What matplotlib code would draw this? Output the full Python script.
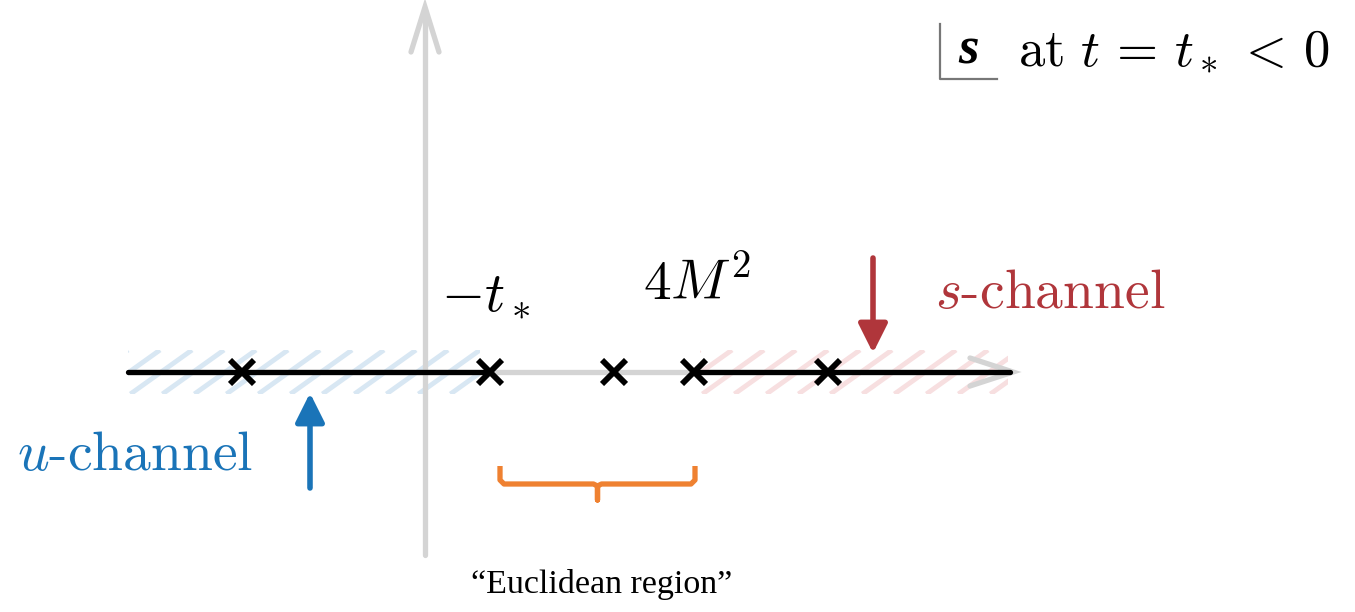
import numpy as np
import matplotlib.pyplot as plt
from matplotlib.patches import Rectangle

plt.rcParams['mathtext.fontset'] = 'cm'

# positions along the real s axis (origin at the crossing of the axes)
pole_x = [-1.83, 0.65, 1.89, 2.69, 4.03]
minus_tstar = 0.65
four_m2 = 2.69
axis_x = [-2.97, 5.85]          # real axis extent
axis_y = [-1.83, 3.62]          # imaginary axis extent
u_cut = [-2.97, minus_tstar]
s_cut = [four_m2, 5.85]
u_hatch = [-2.97, 0.55]
s_hatch = [2.75, 5.83]
hatch_h = 0.22
u_arrow = (-1.15, -1.16, -0.21)  # x, tail y, tip y
s_arrow = (4.48, 1.14, 0.19)
brace = (0.75, 2.70, -0.94, -1.12, -1.28)  # left, right, top, mid, tip

grey = '#d4d4d4'
blue = '#1a74b8'
red = '#b0363b'
orange = '#ef8131'

fig = plt.figure(figsize=(13.55, 6.12), dpi=100)
ax = fig.add_axes([0, 0, 1, 1])
ax.set_xlim(-4.25, 9.30)
ax.set_ylim(-2.40, 3.72)
ax.axis('off')

# hatched cut regions
for (x0, x1), col in [(u_hatch, '#d8e7f3'), (s_hatch, '#f7dfe0')]:
    rect = Rectangle((x0, -hatch_h), x1 - x0, 2 * hatch_h, fc='none', ec='none')
    ax.add_patch(rect)
    dx = 2 * hatch_h * 1.4
    for xs in np.arange(x0 - dx, x1 + 0.3, 0.32):
        ln, = ax.plot([xs, xs + dx], [-hatch_h, hatch_h], color=col, lw=3.5,
                      solid_capstyle='butt', zorder=1)
        ln.set_clip_path(rect)

# grey axes with open arrow heads
ax.plot(axis_x, [0, 0], color=grey, lw=3.8, zorder=2, solid_capstyle='round')
ax.plot([0, 0], axis_y, color=grey, lw=3.8, zorder=2, solid_capstyle='round')
ax.plot([axis_x[1] - 0.40, axis_x[1] + 0.03, axis_x[1] - 0.40], [0.14, 0, -0.14],
        color=grey, lw=3.8, zorder=2, solid_capstyle='round', solid_joinstyle='miter')
ax.plot([-0.14, 0, 0.14], [axis_y[1] - 0.42, axis_y[1] + 0.03, axis_y[1] - 0.42],
        color=grey, lw=3.8, zorder=2, solid_capstyle='round', solid_joinstyle='miter')

# branch cuts
ax.plot(u_cut, [0, 0], color='black', lw=3.8, zorder=3, solid_capstyle='round')
ax.plot(s_cut, [0, 0], color='black', lw=3.8, zorder=3, solid_capstyle='round')

# poles
ax.plot(pole_x, np.zeros(len(pole_x)), 'x', color='black', ms=17, mew=4.2, zorder=4)

# channel arrows
for (x, y0, y1), col in [(u_arrow, blue), (s_arrow, red)]:
    ax.annotate('', xy=(x, y1), xytext=(x, y0),
                arrowprops=dict(arrowstyle='-|>', color=col, lw=4, mutation_scale=44,
                                shrinkA=0, shrinkB=0, capstyle='round'))

# brace for the Euclidean region
bl, br, bt, bm, bb = brace
bc = (bl + br) / 2
r = 0.04
ax.plot([bl, bl, bl + r, bc - r, bc, bc, bc, bc + r, br - r, br, br],
        [bt, bm + r, bm, bm, bm - 0.02, bb, bm - 0.02, bm, bm, bm + r, bt],
        color=orange, lw=3.8, solid_joinstyle='round', solid_capstyle='butt')

# labels
ax.text(minus_tstar - 0.05, 0.50, r'$-t_*$', fontsize=40, ha='center', va='bottom')
ax.text(four_m2 + 0.03, 0.60, r'$4M^2$', fontsize=40, ha='center', va='bottom')
ax.text(5.10, 0.78, r'$s$-channel', fontsize=40, color=red, family='cmr10',
        ha='left', va='center')
ax.text(-4.08, -0.84, r'$u$-channel', fontsize=40, color=blue, family='cmr10',
        ha='left', va='center')
ax.text(1.77, -2.13, '\u201cEuclidean region\u201d', fontsize=24.5,
        family='Liberation Serif', ha='center', va='center')

# s-plane label
ax.plot([5.15, 5.15, 5.72], [3.48, 2.93, 2.93], color='#777777', lw=1.6)
ax.text(5.44, 3.22, 's', fontsize=38, family='Liberation Serif', weight='bold',
        style='italic', ha='center', va='center')
ax.text(5.93, 3.22, r'$\mathrm{at}\ t\,=\,t_*\,<\,0$', fontsize=38, ha='left', va='center')

fig.savefig('out.png', dpi=100)
